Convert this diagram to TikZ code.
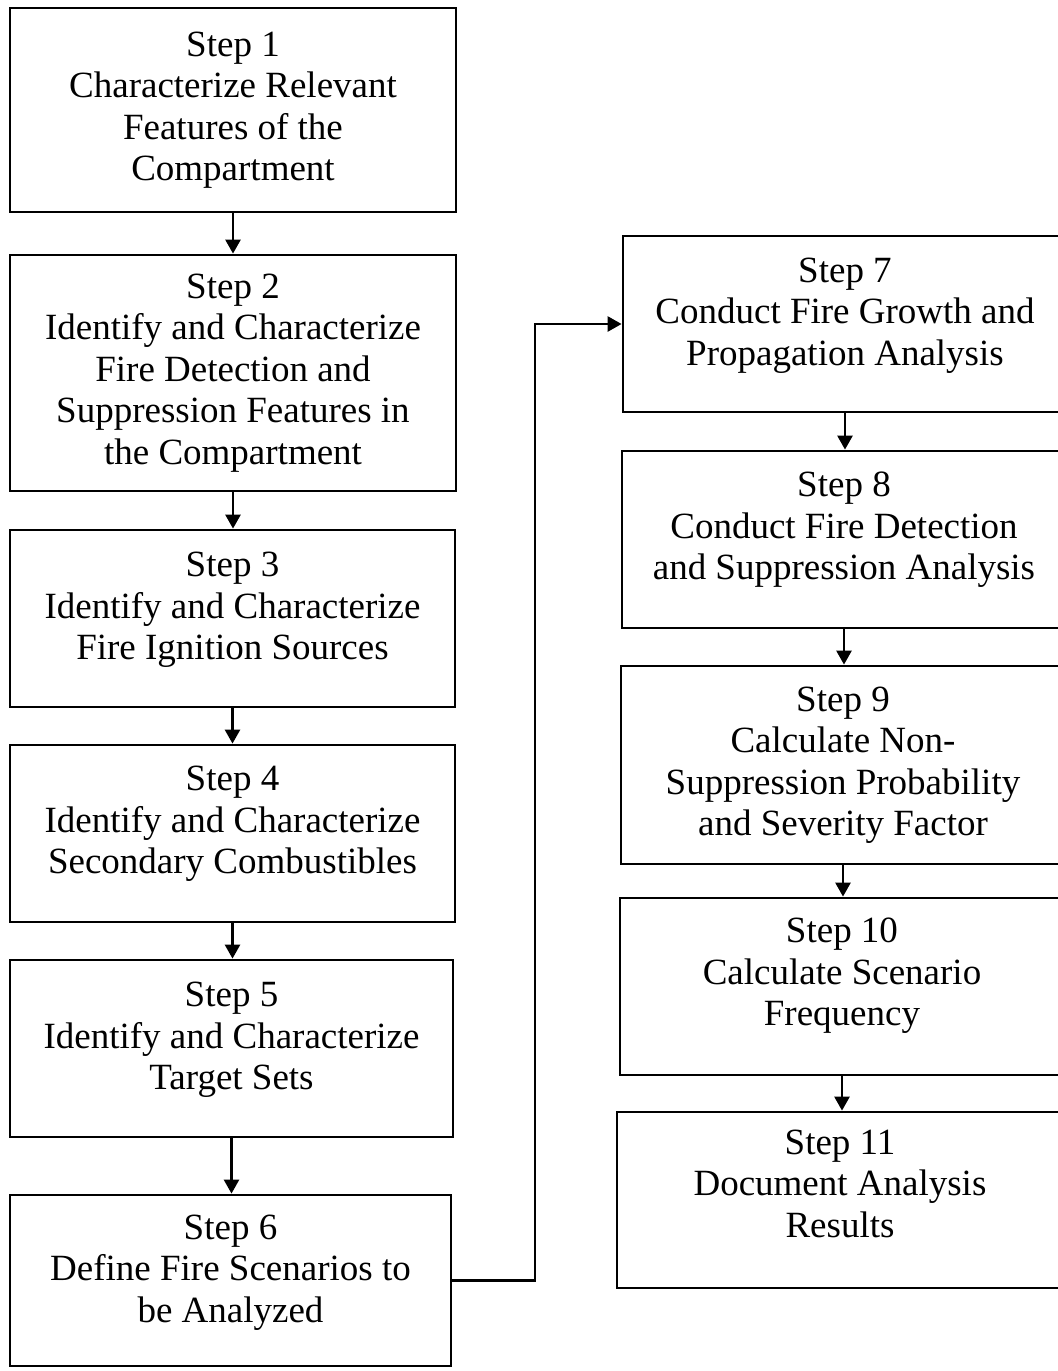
\documentclass[tikz,border=0pt]{standalone}
\usepackage{fontspec}
\setmainfont{Liberation Serif}
\usetikzlibrary{arrows.meta}
\begin{document}
\begin{tikzpicture}[x=0.5pt,y=-0.5pt,
  stepbox/.style={draw,line width=1.4pt,align=center,inner sep=0pt,
    font=\fontsize{18.5pt}{20.75pt}\selectfont},
  link/.style={line width=1.3pt,-{Triangle[length=7pt,width=7.5pt]}}]
\useasboundingbox (0,0) rectangle (1058,1371);
\clip (0,0) rectangle (1058,1371);
\node[stepbox,minimum width=223pt,minimum height=102pt] (b1) at (233,110)
  {Step 1\\Characterize Relevant\\Features of the\\Compartment};
\node[stepbox,minimum width=223pt,minimum height=118pt] (b2) at (233,373)
  {Step 2\\Identify and Characterize\\Fire Detection and\\Suppression Features in\\the Compartment};
\node[stepbox,minimum width=222.5pt,minimum height=88.5pt,text depth=12.5pt] (b3) at (232.5,618.5)
  {Step 3\\Identify and Characterize\\Fire Ignition Sources};
\node[stepbox,minimum width=222.5pt,minimum height=88.5pt,text depth=13.5pt] (b4) at (232.5,833.5)
  {Step 4\\Identify and Characterize\\Secondary Combustibles};
\node[stepbox,minimum width=221.5pt,minimum height=88.5pt,text depth=12.5pt] (b5) at (231.5,1048.5)
  {Step 5\\Identify and Characterize\\Target Sets};
\node[stepbox,minimum width=220.5pt,minimum height=85.5pt,text depth=12pt] (b6) at (230.5,1280.5)
  {Step 6\\Define Fire Scenarios to\\be Analyzed};
\node[stepbox,minimum width=222pt,minimum height=88pt,text depth=12.5pt] (b7) at (845,324)
  {Step 7\\Conduct Fire Growth and\\Propagation Analysis};
\node[stepbox,minimum width=222pt,minimum height=88.5pt,text depth=13.5pt] (b8) at (844,539.5)
  {Step 8\\Conduct Fire Detection\\and Suppression Analysis};
\node[stepbox,minimum width=222pt,minimum height=99pt] (b9) at (843,765)
  {Step 9\\Calculate Non-\\Suppression Probability\\and Severity Factor};
\node[stepbox,minimum width=222pt,minimum height=88.5pt,text depth=14.5pt] (b10) at (842,986.5)
  {Step 10\\Calculate Scenario\\Frequency};
\node[stepbox,minimum width=223pt,minimum height=88pt,text depth=16.5pt] (b11) at (840,1200)
  {Step 11\\Document Analysis\\Results};
\draw[link] (b1.south) -- (b1.south |- b2.north);
\draw[link] (b2.south) -- (b2.south |- b3.north);
\draw[link] (b3.south) -- (b3.south |- b4.north);
\draw[link] (b4.south) -- (b4.south |- b5.north);
\draw[link] (b5.south) -- (b5.south |- b6.north);
\coordinate (turn) at (535,800);
\draw[link] (b6.east) -| (turn) |- (b7.west);
\draw[link] (b7.south) -- (b7.south |- b8.north);
\draw[link] (b8.south) -- (b8.south |- b9.north);
\draw[link] (b9.south) -- (b9.south |- b10.north);
\draw[link] (b10.south) -- (b10.south |- b11.north);
\end{tikzpicture}
\end{document}
